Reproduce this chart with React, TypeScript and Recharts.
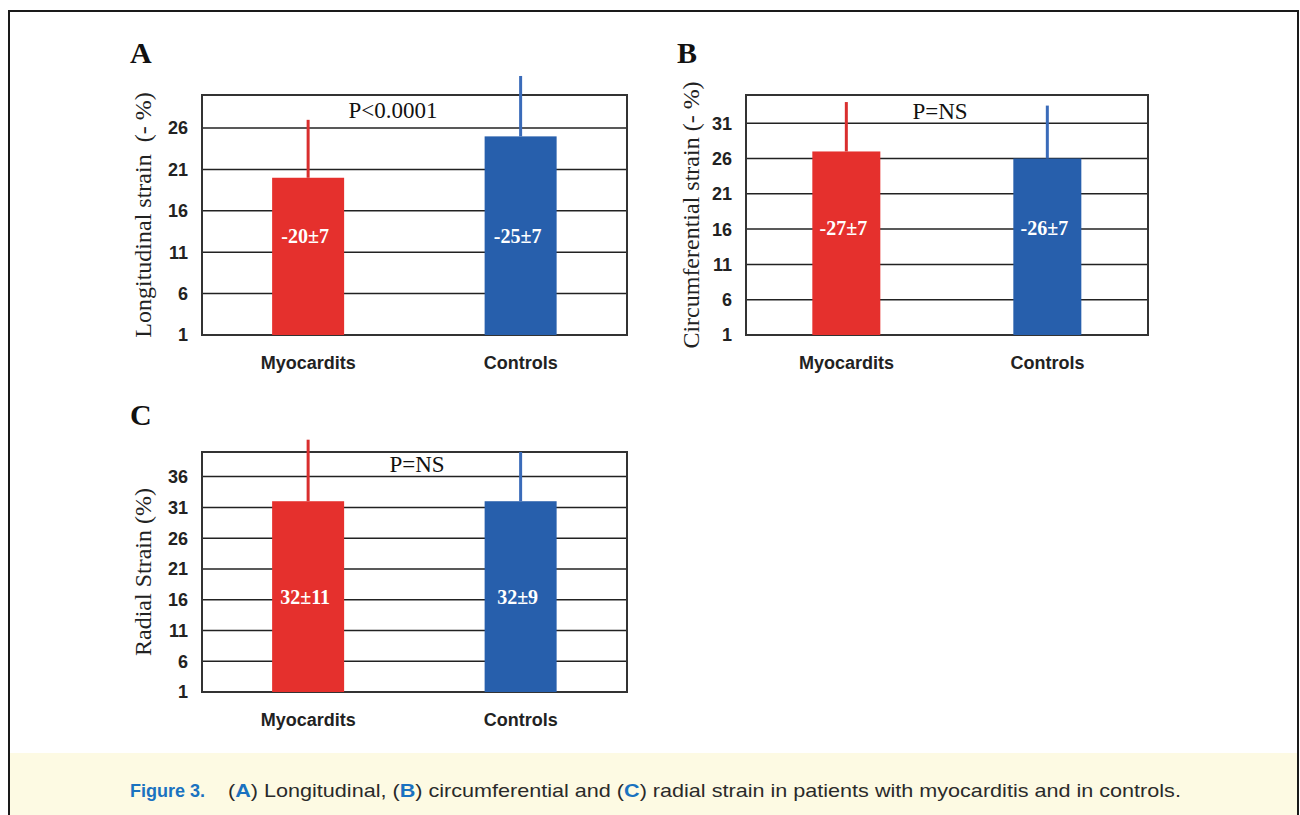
import { BarChart, Bar, XAxis, YAxis, CartesianGrid, ReferenceArea } from 'recharts'

const AXIS_MIN = 1

const categories = ['Myocardits', 'Controls']
const barColors = ['#e5302d', '#275fac']
const errorColors = ['#d92f2e', '#3a6bb9']

// A: longitudinal strain
const longitudinalMean = [20, 25]
const longitudinalSd = [7, 7.3]
const longitudinalLabels = ['-20±7', '-25±7']
const longitudinalTicks = [1, 6, 11, 16, 21, 26]

// B: circumferential strain
const circumferentialMean = [27, 26]
const circumferentialSd = [7, 7.5]
const circumferentialLabels = ['-27±7', '-26±7']
const circumferentialTicks = [1, 6, 11, 16, 21, 26, 31]

// C: radial strain
const radialMean = [32, 32]
const radialSd = [10, 8]
const radialLabels = ['32±11', '32±9']
const radialTicks = [1, 6, 11, 16, 21, 26, 31, 36]

const SERIF = '"Liberation Serif", "Times New Roman", serif'
const SANS = '"Liberation Sans", Arial, sans-serif'

function StrainBar(props: any) {
  const { x, y, width, height, index, payload, labelLevel } = props
  const ppu = height / (payload.value - AXIS_MIN)
  const cx = x + width / 2
  const errTop = y - payload.sd * ppu
  const labelY = y + height - (labelLevel - AXIS_MIN) * ppu
  return (
    <g>
      <rect x={x} y={y} width={width} height={height} fill={barColors[index]} />
      <line x1={cx} x2={cx} y1={y} y2={errTop} stroke={errorColors[index]} strokeWidth={3} />
      <text
        x={cx - 3}
        y={labelY}
        dy="0.35em"
        textAnchor="middle"
        fill="#fff"
        fontFamily={SERIF}
        fontWeight="bold"
        fontSize={20}
      >
        {payload.label}
      </text>
    </g>
  )
}

interface PanelProps {
  left: number
  top: number
  width: number
  plotWidth: number
  axisWidth: number
  labelOffset: number
  yLabel: string
  mean: number[]
  sd: number[]
  labels: string[]
  ticks: number[]
  yMax: number
  labelLevel: number
}

function StrainPanel(p: PanelProps) {
  const data = categories.map((name, i) => ({
    name,
    value: p.mean[i],
    sd: p.sd[i],
    label: p.labels[i],
  }))

  return (
    <div style={{ position: 'absolute', left: p.left, top: p.top }}>
      <BarChart
        width={p.width}
        height={315}
        data={data}
        margin={{ top: 35, right: p.width - p.axisWidth - p.plotWidth, left: 0, bottom: 0 }}
        barCategoryGap="33%"
      >
        <CartesianGrid vertical={false} stroke="#222" strokeWidth={1.5} />
        <XAxis
          dataKey="name"
          height={40}
          tickLine={false}
          axisLine={false}
          tickSize={0}
          tickMargin={21}
          interval={0}
          tick={{ fill: '#222', fontFamily: SANS, fontWeight: 'bold', fontSize: 18 }}
        />
        <YAxis
          type="number"
          domain={[AXIS_MIN, p.yMax]}
          ticks={p.ticks}
          interval={0}
          width={p.axisWidth}
          tickLine={false}
          axisLine={false}
          tickSize={0}
          tickMargin={14}
          tick={{ fill: '#222', fontFamily: SANS, fontWeight: 'bold', fontSize: 18 }}
          label={{
            value: p.yLabel,
            angle: -90,
            position: 'insideLeft',
            offset: p.labelOffset,
            style: { textAnchor: 'middle', fill: '#222', fontFamily: SERIF, fontSize: 24 },
          }}
        />
        <ReferenceArea y1={AXIS_MIN} y2={p.yMax} fill="none" stroke="#333" strokeWidth={2} />
        <Bar
          dataKey="value"
          isAnimationActive={false}
          shape={(s: any) => <StrainBar {...s} labelLevel={p.labelLevel} />}
        />
      </BarChart>
    </div>
  )
}

export default function App() {
  return (
    <div
      style={{
        position: 'absolute',
        left: 0,
        top: 0,
        width: 1300,
        height: 815,
        overflow: 'hidden',
        background: '#fff',
      }}
    >
      <div
        style={{
          position: 'absolute',
          left: 8,
          top: 10,
          width: 1291,
          height: 830,
          boxSizing: 'border-box',
          border: '2px solid #1a1a1a',
        }}
      />
      <div
        style={{ position: 'absolute', left: 10, top: 753, width: 1287, height: 70, background: '#fdfae3' }}
      />

      <StrainPanel
        left={120}
        top={60}
        width={520}
        plotWidth={425}
        axisWidth={82}
        labelOffset={22}
        yLabel={'Longitudinal strain\u00a0 (- %)'}
        mean={longitudinalMean}
        sd={longitudinalSd}
        labels={longitudinalLabels}
        ticks={longitudinalTicks}
        yMax={30}
        labelLevel={13}
      />
      <StrainPanel
        left={660}
        top={60}
        width={500}
        plotWidth={402}
        axisWidth={86}
        labelOffset={30}
        yLabel="Circumferential strain (- %)"
        mean={circumferentialMean}
        sd={circumferentialSd}
        labels={circumferentialLabels}
        ticks={circumferentialTicks}
        yMax={35}
        labelLevel={16.1}
      />
      <StrainPanel
        left={120}
        top={417}
        width={520}
        plotWidth={425}
        axisWidth={82}
        labelOffset={22}
        yLabel="Radial Strain (%)"
        mean={radialMean}
        sd={radialSd}
        labels={radialLabels}
        ticks={radialTicks}
        yMax={40}
        labelLevel={16.4}
      />

      <svg
        width={1300}
        height={815}
        style={{ position: 'absolute', left: 0, top: 0, pointerEvents: 'none' }}
      >
        <g fontFamily={SERIF} fontWeight="bold" fontSize={30} fill="#111">
          <text x={130} y={63}>A</text>
          <text x={677} y={63}>B</text>
          <text x={130} y={425}>C</text>
        </g>
        <g fontFamily={SERIF} fontSize={23} fill="#111" textAnchor="middle">
          <text x={393} y={118}>P&lt;0.0001</text>
          <text x={940} y={119}>P=NS</text>
          <text x={417} y={472}>P=NS</text>
        </g>
        <text x={130} y={797} fontFamily={SANS} fontWeight="bold" fontSize={18} fill="#1a72c0">
          Figure 3.
        </text>
        <text
          transform="translate(228 797) scale(1.2 1)"
          x={0}
          y={0}
          fontFamily={SANS}
          fontSize={18}
          fill="#2a2a2a"
        >
          (<tspan fill="#1a72c0" fontWeight="bold">A</tspan>) Longitudinal, (
          <tspan fill="#1a72c0" fontWeight="bold">B</tspan>) circumferential and (
          <tspan fill="#1a72c0" fontWeight="bold">C</tspan>) radial strain in patients with myocarditis and in controls.
        </text>
      </svg>
    </div>
  )
}
